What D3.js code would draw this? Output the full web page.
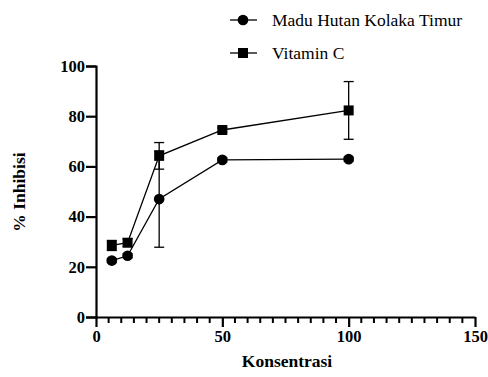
<!DOCTYPE html>
<html>
<head>
    <meta charset="UTF-8">
    <title>% Inhibisi vs Konsentrasi</title>
    <script src="https://cdn.jsdelivr.net/npm/d3@7/dist/d3.min.js"></script>
    <style>
        html, body {
            margin: 0;
            padding: 0;
            background: #ffffff;
        }
    </style>
</head>
<body>
<div id="chart"></div>
<script>
    // concentrations (x)
    let konsentrasi = [6.25, 12.5, 25, 50, 100];

    // Madu Hutan Kolaka Timur
    let maduMean = [22.5, 24.4, 47.0, 62.6, 62.9];
    let maduErr = [0.8, 0.8, 19.2, 0.8, 0.8];

    // Vitamin C
    let vitMean = [28.5, 29.6, 64.2, 74.5, 82.3];
    let vitErr = [2.0, 1.5, 5.3, 0.8, 11.5];

    let xTicks = [0, 50, 100, 150];
    let yTicks = [0, 20, 40, 60, 80, 100];

    let serif = "'Liberation Serif', 'Times New Roman', serif";

    let width = 488, height = 377;
    let svg = d3.select("#chart").append("svg")
        .attr("width", width)
        .attr("height", height)
        .style("display", "block");

    let x = d3.scaleLinear().domain([0, 150]).range([96, 475]);
    let y = d3.scaleLinear().domain([0, 100]).range([317, 66]);

    // y axis
    let yAxis = svg.append("g")
        .attr("transform", "translate(" + x(0) + ",0)")
        .call(d3.axisLeft(y).tickValues(yTicks).tickSize(10).tickPadding(1));
    yAxis.attr("font-family", serif).attr("font-size", 16);
    yAxis.select(".domain").attr("stroke-width", 2.2);
    yAxis.selectAll(".tick line").attr("stroke-width", 2.2);
    yAxis.selectAll(".tick text")
        .style("font-family", serif)
        .style("font-size", "16.5px")
        .style("font-weight", "700");

    // x axis minor ticks
    let minor = d3.range(0, 151, 5).filter(function (d) { return d % 50 !== 0; });
    svg.append("g").selectAll("line")
        .data(minor)
        .enter()
        .append("line")
        .attr("x1", function (d) { return x(d); })
        .attr("x2", function (d) { return x(d); })
        .attr("y1", y(0))
        .attr("y2", y(0) + 6)
        .attr("stroke", "#000")
        .attr("stroke-width", 2);

    let xAxis = svg.append("g")
        .attr("transform", "translate(0," + y(0) + ")")
        .call(d3.axisBottom(x).tickValues(xTicks).tickSize(10).tickPadding(3).tickSizeOuter(0));
    xAxis.attr("font-family", serif).attr("font-size", 16);
    xAxis.select(".domain").attr("stroke-width", 2.2);
    xAxis.selectAll(".tick line").attr("stroke-width", 2.2);
    xAxis.selectAll(".tick text")
        .style("font-family", serif)
        .style("font-size", "16.5px")
        .style("font-weight", "700");

    // axis titles
    svg.append("text")
        .attr("x", 287)
        .attr("y", 367)
        .attr("text-anchor", "middle")
        .style("font-family", serif)
        .style("font-size", "17.5px")
        .style("font-weight", "700")
        .text("Konsentrasi");

    svg.append("text")
        .attr("transform", "translate(25,192) rotate(-90)")
        .attr("text-anchor", "middle")
        .style("font-family", serif)
        .style("font-size", "17.5px")
        .style("font-weight", "700")
        .text("% Inhibisi");

    let line = d3.line()
        .x(function (d) { return x(d[0]); })
        .y(function (d) { return y(d[1]); });

    function drawSeries(mean, err, shape) {
        let pts = konsentrasi.map(function (k, i) { return [k, mean[i], err[i]]; });
        let g = svg.append("g");

        g.append("path")
            .datum(pts)
            .attr("d", line)
            .attr("fill", "none")
            .attr("stroke", "#000")
            .attr("stroke-width", 1.3);

        let eb = g.selectAll("g.err")
            .data(pts)
            .enter()
            .append("g")
            .attr("class", "err");
        eb.append("line")
            .attr("x1", function (d) { return x(d[0]); })
            .attr("x2", function (d) { return x(d[0]); })
            .attr("y1", function (d) { return y(d[1] + d[2]); })
            .attr("y2", function (d) { return y(d[1] - d[2]); })
            .attr("stroke", "#000")
            .attr("stroke-width", 1.3);
        [1, -1].forEach(function (s) {
            eb.append("line")
                .attr("x1", function (d) { return x(d[0]) - 5; })
                .attr("x2", function (d) { return x(d[0]) + 5; })
                .attr("y1", function (d) { return y(d[1] + s * d[2]); })
                .attr("y2", function (d) { return y(d[1] + s * d[2]); })
                .attr("stroke", "#000")
                .attr("stroke-width", 1.3);
        });

        let sym = d3.symbol().type(shape).size(shape === d3.symbolSquare ? 100 : 90);
        g.selectAll("path.pt")
            .data(pts)
            .enter()
            .append("path")
            .attr("class", "pt")
            .attr("d", sym)
            .attr("transform", function (d) {
                return "translate(" + x(d[0]) + "," + y(d[1]) + ")";
            })
            .attr("fill", "#000");
    }

    drawSeries(maduMean, maduErr, d3.symbolCircle);
    drawSeries(vitMean, vitErr, d3.symbolSquare);

    // legend
    let legend = [
        {name: "Madu Hutan Kolaka Timur", shape: d3.symbolCircle, y: 20},
        {name: "Vitamin C", shape: d3.symbolSquare, y: 53}
    ];
    let lg = svg.append("g").selectAll("g")
        .data(legend)
        .enter()
        .append("g")
        .attr("transform", function (d) { return "translate(0," + d.y + ")"; });
    lg.append("line")
        .attr("x1", 230)
        .attr("x2", 257)
        .attr("stroke", "#000")
        .attr("stroke-width", 1.3);
    lg.append("path")
        .attr("d", function (d) {
            return d3.symbol().type(d.shape).size(d.shape === d3.symbolSquare ? 100 : 90)();
        })
        .attr("transform", "translate(243,0)")
        .attr("fill", "#000");
    lg.append("text")
        .attr("x", 272)
        .attr("y", 5.5)
        .style("font-family", serif)
        .style("font-size", "17.5px")
        .text(function (d) { return d.name; });
</script>
</body>
</html>
